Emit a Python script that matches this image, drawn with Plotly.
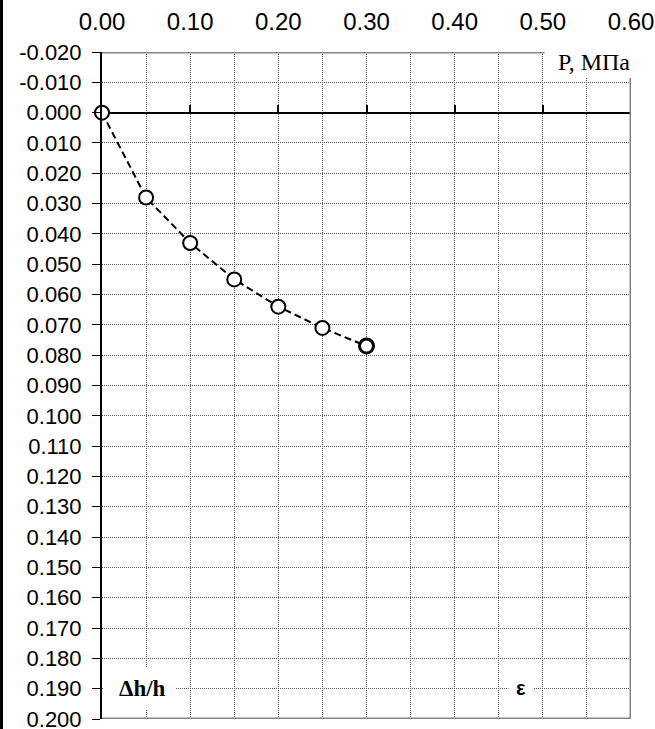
import plotly.graph_objects as go

# Compression test: relative settlement vs. pressure
pressure = [0.00, 0.05, 0.10, 0.15, 0.20, 0.25, 0.30]          # P, MPa
strain = [0.000, 0.028, 0.043, 0.055, 0.064, 0.071, 0.077]     # Δh/h

x_tick_vals = [0.0, 0.1, 0.2, 0.3, 0.4, 0.5, 0.6]
x_tick_text = ["0.00", "0.10", "0.20", "0.30", "0.40", "0.50", "0.60"]
y_tick_vals = [-0.02, -0.01, 0.0, 0.01, 0.02, 0.03, 0.04, 0.05, 0.06, 0.07,
               0.08, 0.09, 0.10, 0.11, 0.12, 0.13, 0.14, 0.15, 0.16, 0.17,
               0.18, 0.19, 0.20]
y_tick_text = ["-0.020", "-0.010", "0.000", "0.010", "0.020", "0.030",
               "0.040", "0.050", "0.060", "0.070", "0.080", "0.090",
               "0.100", "0.110", "0.120", "0.130", "0.140", "0.150",
               "0.160", "0.170", "0.180", "0.190", "0.200"]

X_MIN, X_MAX = 0.0, 0.6
Y_MIN, Y_MAX = -0.02, 0.20

W, H = 655, 729
ML, MR, MT, MB = 102, 24, 52, 10
PW, PH = W - ML - MR, H - MT - MB

GRID = dict(gridcolor="#5a5a5a", gridwidth=1, griddash="1px,1px")
BORDER = "#858585"

fig = go.Figure()
fig.add_trace(go.Scatter(
    x=pressure, y=strain, mode="lines+markers", cliponaxis=False,
    line=dict(color="black", width=2, dash="7px,4px"),
    marker=dict(size=14, color="white", symbol="circle",
                line=dict(color="black", width=[2, 2, 2, 2, 2, 2, 3])),
    showlegend=False, hoverinfo="skip",
))

# helper axis pair whose lower domain edge sits on y = 0, so that its
# inside ticks stand on the zero line like a crossing x axis
zero_pos = (Y_MAX - 0.0) / (Y_MAX - Y_MIN)
fig.add_trace(go.Scatter(x=[None], y=[None], xaxis="x2", yaxis="y2",
                         showlegend=False, hoverinfo="skip"))

fig.update_layout(
    width=W, height=H,
    margin=dict(l=ML, r=MR, t=MT, b=MB, autoexpand=False),
    paper_bgcolor="white", plot_bgcolor="rgba(0,0,0,0)",
    font=dict(family="Liberation Sans, Arial, sans-serif", color="black"),
    xaxis=dict(
        range=[X_MIN, X_MAX], side="top", automargin=False,
        tickvals=x_tick_vals, ticktext=x_tick_text,
        tickfont=dict(size=24), ticks="", ticklabelstandoff=16,
        showgrid=True, **GRID,
        minor=dict(dtick=0.05, tick0=0, showgrid=True, **GRID),
        showline=False, zeroline=False, ticklabeloverflow="allow",
    ),
    yaxis=dict(
        range=[Y_MAX, Y_MIN], automargin=False,
        tickvals=y_tick_vals, ticktext=y_tick_text,
        tickfont=dict(size=22), ticks="outside", ticklen=8,
        tickwidth=1, tickcolor="black", ticklabelstandoff=6,
        ticklabeloverflow="allow",
        showgrid=True, **GRID,
        showline=True, linecolor="black", linewidth=2,
        zeroline=True, zerolinecolor="black", zerolinewidth=1.5,
    ),
    xaxis2=dict(
        range=[X_MIN, X_MAX], anchor="y2", side="bottom", automargin=False,
        tickvals=x_tick_vals[1:-1], showticklabels=False,
        ticks="inside", ticklen=8, tickwidth=2, tickcolor="black",
        showgrid=False, showline=False, zeroline=False,
    ),
    yaxis2=dict(
        domain=[zero_pos, 1], anchor="x2", range=[0, 1],
        visible=False, showgrid=False, zeroline=False,
    ),
)

shapes = [
    # frame of the plot area (left side is the black y axis)
    dict(type="line", xref="x", yref="y", x0=X_MIN, x1=X_MAX, y0=Y_MIN, y1=Y_MIN,
         line=dict(color=BORDER, width=3)),
    dict(type="line", xref="x", yref="y", x0=X_MAX, x1=X_MAX, y0=Y_MIN, y1=Y_MAX,
         line=dict(color=BORDER, width=3)),
    dict(type="line", xref="x", yref="y", x0=X_MIN, x1=X_MAX, y0=Y_MAX, y1=Y_MAX,
         line=dict(color=BORDER, width=3)),
    # white boxes behind the axis captions
    dict(type="rect", xref="x", yref="y", x0=0.502, x1=0.615, y0=-0.0245, y1=-0.0114,
         fillcolor="white", line=dict(width=0)),
    dict(type="rect", xref="x", yref="y", x0=0.002, x1=0.083, y0=0.1828, y1=0.1967,
         fillcolor="white", line=dict(width=0)),
    dict(type="rect", xref="x", yref="y", x0=0.461, x1=0.490, y0=0.1868, y1=0.1935,
         fillcolor="white", line=dict(width=0)),
    # dark strip along the left edge of the figure
    dict(type="rect", xref="paper", yref="paper",
         x0=-ML / PW, x1=-(ML - 3) / PW, y0=-MB / PH, y1=1 + MT / PH,
         fillcolor="black", line=dict(width=0)),
]
for s in shapes:
    s["layer"] = "above"
fig.update_layout(shapes=shapes)

fig.add_annotation(x=0.5575, y=-0.0167, xref="x", yref="y", text="P, МПа",
                   showarrow=False,
                   font=dict(family="Liberation Serif, Times New Roman, serif",
                             size=24, color="black"))
fig.add_annotation(x=0.0455, y=0.1898, xref="x", yref="y", text="<b>Δh/h</b>",
                   showarrow=False,
                   font=dict(family="Liberation Serif, Times New Roman, serif",
                             size=23, color="black"))
fig.add_annotation(x=0.475, y=0.1898, xref="x", yref="y", text="<b>ε</b>",
                   showarrow=False,
                   font=dict(family="Liberation Sans, Arial, sans-serif",
                             size=20, color="black"))

fig.write_html("out.html")
